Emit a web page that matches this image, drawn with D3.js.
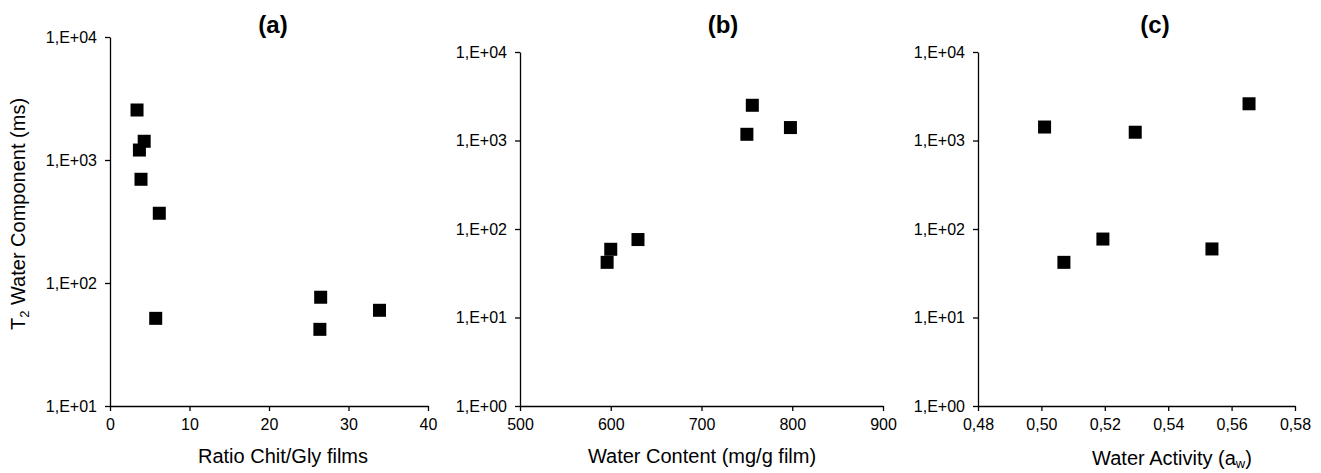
<!DOCTYPE html>
<html>
<head>
<meta charset="utf-8">
<script src="https://cdn.jsdelivr.net/npm/d3@7/dist/d3.min.js"></script>
<style>
  html, body { margin: 0; padding: 0; background: #fff; }
  svg { display: block; font-family: "Liberation Sans", Arial, sans-serif; }
</style>
</head>
<body>
<svg id="chart" width="1321" height="473"></svg>
<script>
// ---- Data ----
// Panel (a): T2 vs ratio Chit/Gly
const ratioChitGly = [3.4, 4.3, 3.7, 3.9, 6.2, 5.75, 26.5, 26.4, 33.9];
const t2RatioPanel = [2550, 1420, 1205, 697, 369, 51.6, 76.6, 42, 60];
// Panel (b): T2 vs water content
const waterContent = [756, 750, 798, 630, 600, 596];
const t2WaterContentPanel = [2500, 1175, 1400, 76, 59, 42];
// Panel (c): T2 vs water activity
const waterActivity = [0.501, 0.5296, 0.5655, 0.5194, 0.5071, 0.5538];
const t2WaterActivityPanel = [1420, 1240, 2600, 77, 42, 59.5];

// Ticks
const xTicksA = [0, 10, 20, 30, 40];
const xTicksB = [500, 600, 700, 800, 900];
const xTicksC = [0.48, 0.50, 0.52, 0.54, 0.56, 0.58];
const yTicksA = [10, 100, 1000, 10000];
const yTicksBC = [1, 10, 100, 1000, 10000];
const panelTitles = ["(a)", "(b)", "(c)"];

const fmtY = d => "1,E+" + String(Math.round(Math.log10(d))).padStart(2, "0");
const fmtC = d => d.toFixed(2).replace(".", ",");

const svg = d3.select("#chart");

const panels = [
  { title: panelTitles[0], xs: ratioChitGly, ys: t2RatioPanel,
    xDom: [0, 40], xRange: [110, 428], yDom: [10, 10000], yRange: [406, 37],
    xTicks: xTicksA, yTicks: yTicksA, xFmt: d => String(d),
    titleX: 273, xLabel: "ratio" },
  { title: panelTitles[1], xs: waterContent, ys: t2WaterContentPanel,
    xDom: [500, 900], xRange: [520, 883], yDom: [1, 10000], yRange: [406, 52],
    xTicks: xTicksB, yTicks: yTicksBC, xFmt: d => String(d),
    titleX: 723, xLabel: "wc" },
  { title: panelTitles[2], xs: waterActivity, ys: t2WaterActivityPanel,
    xDom: [0.48, 0.58], xRange: [978, 1295], yDom: [1, 10000], yRange: [406, 52],
    xTicks: xTicksC, yTicks: yTicksBC, xFmt: fmtC,
    titleX: 1155, xLabel: "aw" }
];

const markerSize = 13;

panels.forEach(p => {
  const x = d3.scaleLinear().domain(p.xDom).range(p.xRange);
  const y = d3.scaleLog().domain(p.yDom).range(p.yRange);
  const g = svg.append("g");

  const xAxis = g.append("g")
    .attr("transform", `translate(0,${p.yRange[0]})`)
    .call(d3.axisBottom(x).tickValues(p.xTicks).tickFormat(p.xFmt).tickSize(5).tickSizeOuter(0).tickPadding(8));
  const yAxis = g.append("g")
    .attr("transform", `translate(${p.xRange[0]},0)`)
    .call(d3.axisLeft(y).tickValues(p.yTicks).tickFormat(fmtY).tickSize(5).tickSizeOuter(0).tickPadding(8));

  [xAxis, yAxis].forEach(a => {
    a.selectAll("path, line").attr("stroke", "#000").attr("stroke-width", 1.3);
    a.selectAll("text").attr("fill", "#000").style("font-size", "16px")
      .style("font-family", '"Liberation Sans", Arial, sans-serif');
  });
  xAxis.selectAll("text").attr("dy", "0.71em");

  // points
  g.selectAll("rect.pt")
    .data(p.xs.map((v, i) => [v, p.ys[i]]))
    .join("rect")
    .attr("class", "pt")
    .attr("x", d => x(d[0]) - markerSize / 2)
    .attr("y", d => y(d[1]) - markerSize / 2)
    .attr("width", markerSize)
    .attr("height", markerSize)
    .attr("fill", "#000");

  // title
  g.append("text")
    .attr("x", p.titleX).attr("y", 33)
    .attr("text-anchor", "middle")
    .style("font-size", "24px").style("font-weight", "bold")
    .text(p.title);

  // x label
  const xl = g.append("text").attr("text-anchor", "middle").style("font-size", "20px");
  if (p.xLabel === "ratio") {
    xl.attr("x", 283).attr("y", 463).text("Ratio Chit/Gly films");
  } else if (p.xLabel === "wc") {
    xl.attr("x", 702).attr("y", 463).text("Water Content (mg/g  film)");
  } else {
    xl.attr("x", 1172).attr("y", 465);
    xl.append("tspan").text("Water Activity (a");
    xl.append("tspan").attr("dy", 3).style("font-size", "13px").text("w");
    xl.append("tspan").attr("dy", -3).text(")");
  }
});

// y-axis label
const yl = svg.append("text")
  .attr("transform", "translate(25,214) rotate(-90)")
  .attr("text-anchor", "middle")
  .style("font-size", "20px");
yl.append("tspan").text("T");
yl.append("tspan").attr("dy", 4).style("font-size", "13px").text("2");
yl.append("tspan").attr("dy", -4).text(" Water Component (ms)");
</script>
</body>
</html>
